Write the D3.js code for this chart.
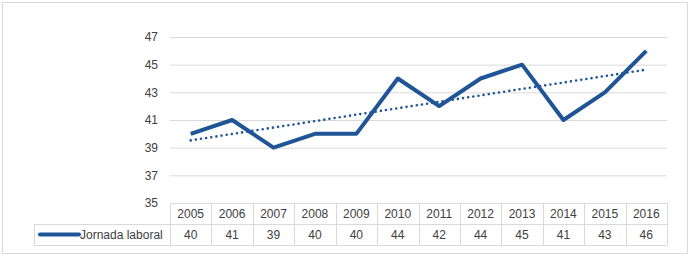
<!DOCTYPE html>
<meta charset="utf-8">
<script src="https://d3js.org/d3.v7.min.js"></script>
<style>body{margin:0;background:#fff}</style>
<div id="chart"></div>
<script>
const years=["2005","2006","2007","2008","2009","2010","2011","2012","2013","2014","2015","2016"];
const jornada=[40,41,39,40,40,44,42,44,45,41,43,46];
const yTicks=[35,37,39,41,43,45,47];
const seriesName="Jornada laboral";

const W=690,H=258;
const plotL=170,plotR=667,plotT=37,plotB=203;
const font="'Liberation Sans', Arial, sans-serif";
const txt="#404040", grid="#d9d9d9", blue="#1f5597";

const svg=d3.select("#chart").append("svg")
    .attr("width",W).attr("height",H)
    .style("font-family",font);

svg.append("rect")
    .attr("x",2.5).attr("y",2.5).attr("width",685).attr("height",251)
    .attr("fill","#fff").attr("stroke","#d9d9d9");

const x=d3.scaleBand().domain(years).range([plotL,plotR]);
const y=d3.scaleLinear().domain([35,47]).range([plotB,plotT]);

// gridlines + labels
const ax=svg.append("g")
    .attr("transform",`translate(${plotL},0)`)
    .call(d3.axisLeft(y).tickValues(yTicks).tickSize(-(plotR-plotL)).tickPadding(12));
ax.select(".domain").remove();
ax.selectAll(".tick line").attr("stroke",grid);
ax.selectAll(".tick text").attr("fill",txt).style("font-size","12px").style("font-family",font);

// trendline (least squares)
const n=jornada.length, mx=(n-1)/2, my=d3.mean(jornada);
const slope=d3.sum(jornada,(v,i)=>(i-mx)*(v-my))/d3.sum(jornada,(v,i)=>(i-mx)*(i-mx));
const trend=jornada.map((v,i)=>my+slope*(i-mx));

const cx=d=>x(d)+x.bandwidth()/2;
svg.append("path")
    .datum(trend)
    .attr("fill","none").attr("stroke",blue)
    .attr("stroke-width",2.6).attr("stroke-linecap","round")
    .attr("stroke-dasharray","0 5.2")
    .attr("d",d3.line().x((d,i)=>cx(years[i])).y(d=>y(d)));

svg.append("path")
    .datum(jornada)
    .attr("fill","none").attr("stroke",blue)
    .attr("stroke-width",4).attr("stroke-linejoin","round")
    .attr("d",d3.line().x((d,i)=>cx(years[i])).y(d=>y(d)));

// data table
const rowH=21, tLeft=34, tTop=plotB, tBot=plotB+2*rowH;
const tg=svg.append("g");
tg.append("line").attr("x1",plotL).attr("x2",plotR).attr("y1",tTop+0.5).attr("y2",tTop+0.5).attr("stroke",grid);
tg.append("line").attr("x1",tLeft).attr("x2",plotR).attr("y1",tTop+rowH+0.5).attr("y2",tTop+rowH+0.5).attr("stroke",grid);
tg.append("line").attr("x1",tLeft).attr("x2",plotR).attr("y1",tBot+0.5).attr("y2",tBot+0.5).attr("stroke",grid);
tg.append("line").attr("x1",tLeft+0.5).attr("x2",tLeft+0.5).attr("y1",tTop+rowH).attr("y2",tBot).attr("stroke",grid);
tg.selectAll(".vl").data(years.concat(["end"])).join("line")
    .attr("x1",d=>Math.round(d==="end"?plotR:x(d))+0.5)
    .attr("x2",d=>Math.round(d==="end"?plotR:x(d))+0.5)
    .attr("y1",tTop).attr("y2",tBot).attr("stroke",grid);

tg.selectAll(".yr").data(years).join("text")
    .attr("x",d=>cx(d)).attr("y",tTop+rowH/2+4.5)
    .attr("text-anchor","middle").attr("fill",txt).style("font-size","12px")
    .text(d=>d);
tg.selectAll(".val").data(jornada).join("text")
    .attr("x",(d,i)=>cx(years[i])).attr("y",tTop+rowH*1.5+4.5)
    .attr("text-anchor","middle").attr("fill",txt).style("font-size","12px")
    .text(d=>d);

// legend key
tg.append("line").attr("x1",40).attr("x2",79).attr("y1",tTop+rowH*1.5).attr("y2",tTop+rowH*1.5)
    .attr("stroke",blue).attr("stroke-width",4).attr("stroke-linecap","round");
tg.append("text").attr("x",80).attr("y",tTop+rowH*1.5+4.5)
    .attr("fill",txt).style("font-size","12px").text(seriesName);
</script>
